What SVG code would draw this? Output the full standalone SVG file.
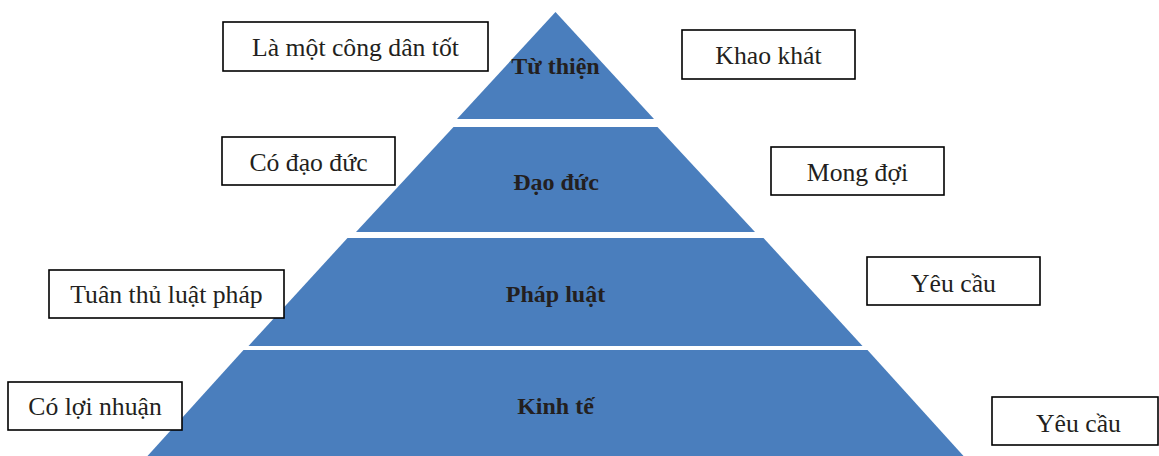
<svg xmlns="http://www.w3.org/2000/svg" width="1159" height="456" viewBox="0 0 1159 456">
<style>
.layer{fill:#4a7ebd;}
.box{fill:#ffffff;stroke:#000000;stroke-width:1.6;}
.t{font-family:"Liberation Serif","Times New Roman",serif;font-size:25.7px;fill:#231f20;text-anchor:middle;}
.b{font-family:"Liberation Serif","Times New Roman",serif;font-size:24px;font-weight:bold;fill:#231f20;text-anchor:middle;}
</style>
<rect width="1159" height="456" fill="#ffffff"/>
<g id="layer-tu-thien">
<polygon class="layer" points="555.5,12 654,119 457,119"/>
<text class="b" x="555.5" y="74">Từ thiện</text>
</g>
<g id="layer-dao-duc">
<polygon class="layer" points="453.5,127 657.5,127 755,232 356,232"/>
<text class="b" x="556" y="190">Đạo đức</text>
</g>
<g id="layer-phap-luat">
<polygon class="layer" points="347.5,238 763.5,238 862.5,346 248.5,346"/>
<text class="b" x="555.5" y="302">Pháp luật</text>
</g>
<g id="layer-kinh-te">
<polygon class="layer" points="243.5,350 867.5,350 963.5,456 147.5,456"/>
<text class="b" x="555.5" y="414">Kinh tế</text>
</g>
<g id="box-cong-dan">
<rect class="box" x="223" y="22" width="265" height="49"/>
<text class="t" x="355.5" y="56">Là một công dân tốt</text>
</g>
<g id="box-khao-khat">
<rect class="box" x="682" y="30" width="173" height="49"/>
<text class="t" x="768.5" y="64">Khao khát</text>
</g>
<g id="box-co-dao-duc">
<rect class="box" x="222" y="137" width="173" height="48"/>
<text class="t" x="308.5" y="171">Có đạo đức</text>
</g>
<g id="box-mong-doi">
<rect class="box" x="771" y="147" width="173" height="48"/>
<text class="t" x="857.5" y="181">Mong đợi</text>
</g>
<g id="box-tuan-thu">
<rect class="box" x="49" y="270" width="235" height="48"/>
<text class="t" x="166.5" y="303">Tuân thủ luật pháp</text>
</g>
<g id="box-yeu-cau-1">
<rect class="box" x="867" y="257" width="173" height="48"/>
<text class="t" x="953.5" y="292">Yêu cầu</text>
</g>
<g id="box-loi-nhuan">
<rect class="box" x="8" y="382" width="174" height="48"/>
<text class="t" x="95" y="415">Có lợi nhuận</text>
</g>
<g id="box-yeu-cau-2">
<rect class="box" x="992" y="397" width="166" height="48"/>
<text class="t" x="1078.5" y="432">Yêu cầu</text>
</g>
<g id="connectors"></g>
</svg>
